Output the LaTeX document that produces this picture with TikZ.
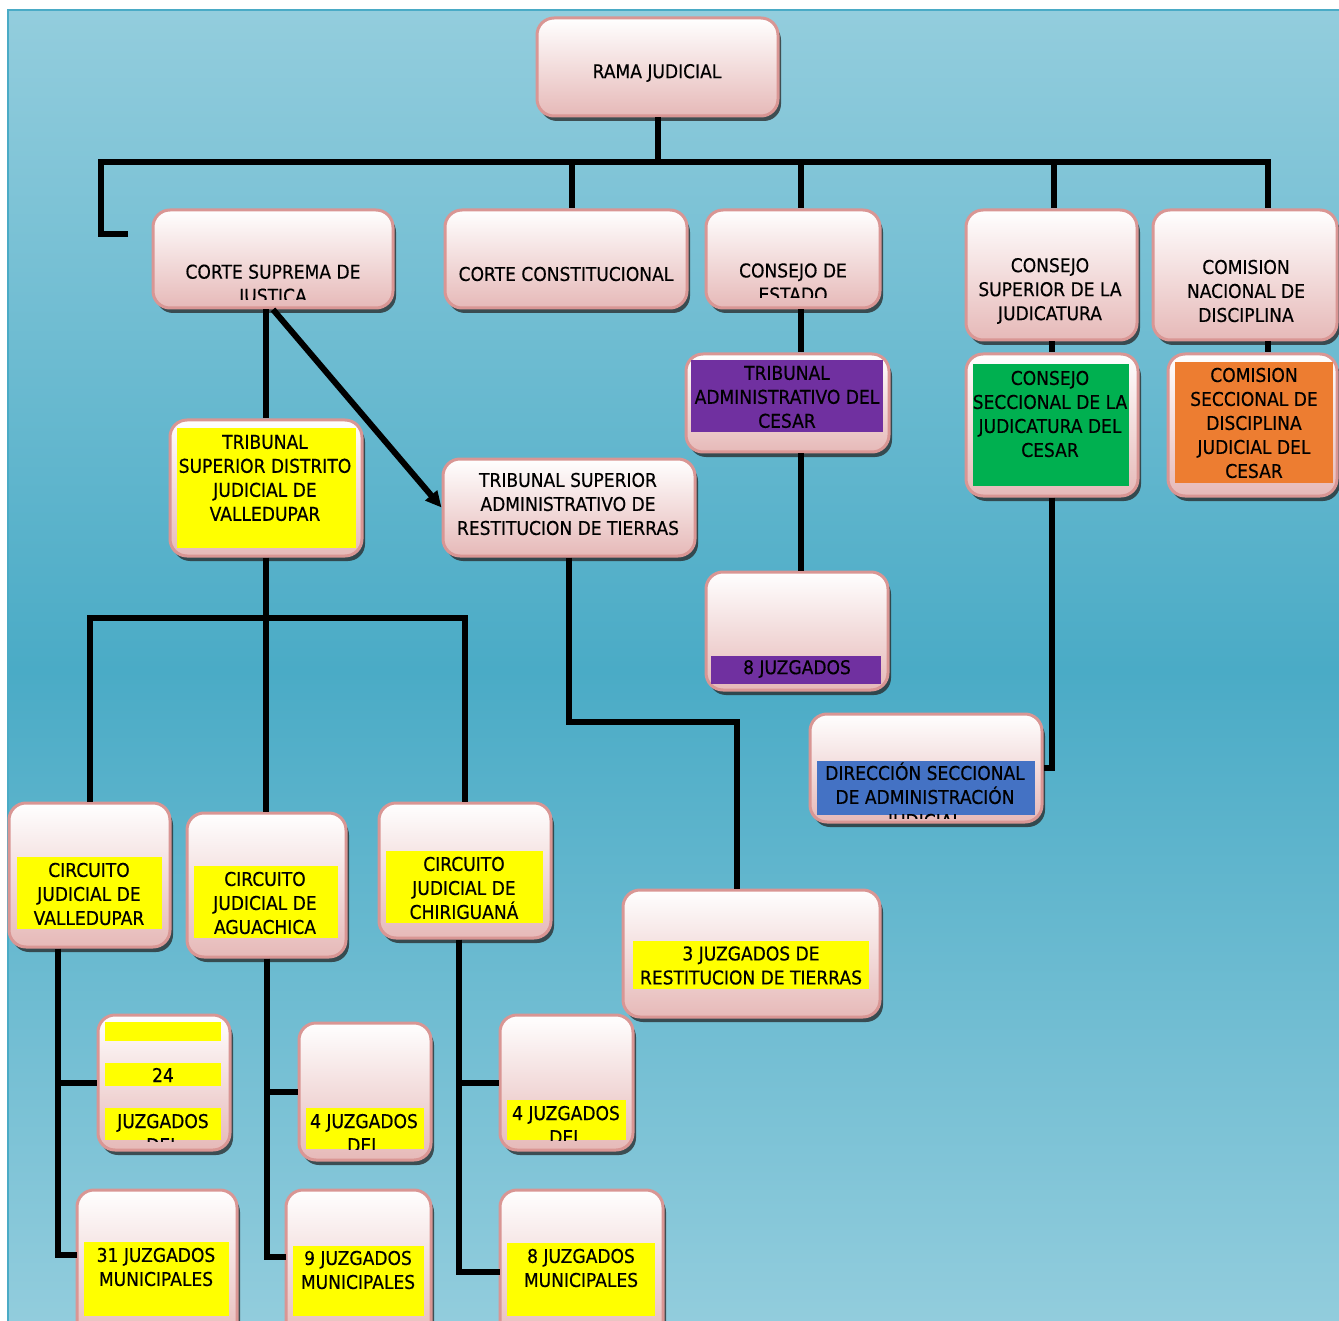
\documentclass[tikz,border=0pt]{standalone}
\usepackage{fontspec}
\setmainfont{DejaVu Sans}[FakeStretch=0.9,FakeBold=0.4]
\usetikzlibrary{shadows,arrows.meta}
\definecolor{bgtop}{HTML}{93CDDD}
\definecolor{bgmid}{HTML}{4AABC6}
\definecolor{bgbot}{HTML}{93CDDD}
\definecolor{bord}{HTML}{D99694}
\definecolor{pinkb}{HTML}{E6B9B8}
\definecolor{yel}{HTML}{FFFF00}
\definecolor{purp}{HTML}{7030A0}
\definecolor{grn}{HTML}{00B050}
\definecolor{org}{HTML}{ED7D31}
\definecolor{blu}{HTML}{4472C4}
\newcommand\jbox[5]{\node[jbx, minimum width={(#4-#2)*1pt}, minimum height={(#5-#3)*1pt}] (#1) at ({(#2+#4)/2},{(#3+#5)/2}) {};}
\begin{document}
\begin{tikzpicture}[x=1pt,y=-1pt,
  jbx/.style={rectangle, rounded corners=17pt, draw=bord, line width=3pt, top color=white, bottom color=pinkb, inner sep=0pt,
    drop shadow={shadow xshift=3pt, shadow yshift=-5pt, fill=black!70!gray, opacity=0.75}},
  txt/.style={font=\fontsize{19}{24}\selectfont, align=center, inner sep=0pt, text=black},
  conn/.style={line width=6pt, black, line join=miter}]
\useasboundingbox (0,0) rectangle (1339,1321);
\fill[white] (0,0) rectangle (1339,1321);
\shade[top color=bgtop, bottom color=bgbot, middle color=bgmid] (8,10) rectangle (1350,1330);
\draw[bgmid, line width=2pt] (8,1330) -- (8,10) -- (1350,10);

% boxes
\jbox{rama}{537}{18}{778}{116}
\jbox{csj}{153}{210}{393}{308}
\jbox{cc}{445}{210}{687}{308}
\jbox{ce}{706}{210}{880}{308}
\jbox{csjud}{966}{210}{1137}{340}
\jbox{cnd}{1153}{210}{1337}{340}
\jbox{tac}{686}{354}{889}{452}
\jbox{csecj}{966}{354}{1138}{496}
\jbox{csd}{1168}{354}{1337}{496}
\jbox{tsd}{170}{420}{362}{556}
\jbox{tsa}{443}{459}{695}{556}
\jbox{jee}{706}{572}{888}{690}
\jbox{dsa}{810}{714}{1042}{822}
\jbox{cv}{9}{803}{170}{947}
\jbox{ca}{187}{813}{346}{957}
\jbox{cch}{379}{803}{551}{938}
\jbox{jrt}{623}{890}{880}{1017}
\jbox{jtf}{98}{1015}{230}{1150}
\jbox{jfa}{299}{1023}{431}{1160}
\jbox{jfc}{500}{1015}{633}{1150}
\jbox{mto}{77}{1190}{237}{1345}
\jbox{mni}{286}{1190}{431}{1345}
\jbox{mei}{500}{1190}{663}{1345}

% coloured bands
\fill[purp] (691,360) rectangle (883,432);
\fill[grn] (973,364) rectangle (1129,486);
\fill[org] (1175,362) rectangle (1333,483);
\fill[yel] (177,428) rectangle (356,548);
\fill[purp] (711,656) rectangle (881,684);
\fill[blu] (817,761) rectangle (1035,815);
\fill[yel] (17,857) rectangle (162,929);
\fill[yel] (194,866) rectangle (338,938);
\fill[yel] (386,851) rectangle (543,923);
\fill[yel] (633,941) rectangle (869,989);
\fill[yel] (105,1022) rectangle (221,1041);
\fill[yel] (105,1063) rectangle (221,1086);
\fill[yel] (105,1108) rectangle (221,1140);
\fill[yel] (306,1108) rectangle (424,1149);
\fill[yel] (507,1100) rectangle (626,1140);
\fill[yel] (84,1242) rectangle (229,1316);
\fill[yel] (293,1246) rectangle (424,1316);
\fill[yel] (507,1243) rectangle (655,1316);

% texts
\node[txt] (t-rama) at (657,73) {RAMA JUDICIAL};
\begin{scope}
\clip (153,210) rectangle (393,300);
\node[txt] (t-csj) at (273,285.5) {CORTE SUPREMA DE\\JUSTICA};
\end{scope}
\node[txt] (t-cc) at (566,274) {CORTE CONSTITUCIONAL};
\begin{scope}
\clip (706,210) rectangle (880,298);
\node[txt] (t-ce) at (793,282.5) {CONSEJO DE\\ESTADO};
\end{scope}
\node[txt] (t-csjud) at (1050,291) {CONSEJO\\SUPERIOR DE LA\\JUDICATURA};
\node[txt] (t-cnd) at (1246,291) {COMISION\\NACIONAL DE\\DISCIPLINA};
\node[txt] (t-tac) at (787,397) {TRIBUNAL\\ADMINISTRATIVO DEL\\CESAR};
\node[txt] (t-csecj) at (1050,414) {CONSEJO\\SECCIONAL DE LA\\JUDICATURA DEL\\CESAR};
\node[txt] (t-csd) at (1254,423) {COMISION\\SECCIONAL DE\\DISCIPLINA\\JUDICIAL DEL\\CESAR};
\node[txt] (t-tsd) at (265,478) {TRIBUNAL\\SUPERIOR DISTRITO\\JUDICIAL DE\\VALLEDUPAR};
\node[txt] (t-tsa) at (568,504) {TRIBUNAL SUPERIOR\\ADMINISTRATIVO DE\\RESTITUCION DE TIERRAS};
\node[txt] (t-jee) at (797,669) {8 JUZGADOS};
\begin{scope}
\clip (810,714) rectangle (1042,818);
\node[txt] (t-dsa) at (925,797) {DIRECCIÓN SECCIONAL\\DE ADMINISTRACIÓN\\JUDICIAL};
\end{scope}
\node[txt] (t-cv) at (89,894) {CIRCUITO\\JUDICIAL DE\\VALLEDUPAR};
\node[txt] (t-ca) at (265,903) {CIRCUITO\\JUDICIAL DE\\AGUACHICA};
\node[txt] (t-cch) at (464,888) {CIRCUITO\\JUDICIAL DE\\CHIRIGUANÁ};
\node[txt] (t-jrt) at (751,965.5) {3 JUZGADOS DE\\RESTITUCION DE TIERRAS};
\node[txt] (t-jtf) at (163,1075) {24};
\begin{scope}
\clip (98,1015) rectangle (230,1141);
\node[txt] (t-jtfb) at (163,1133) {JUZGADOS\\DEL};
\end{scope}
\begin{scope}
\clip (299,1023) rectangle (431,1149);
\node[txt] (t-jfa) at (364,1133) {4 JUZGADOS\\DEL};
\end{scope}
\begin{scope}
\clip (500,1015) rectangle (633,1140);
\node[txt] (t-jfc) at (566,1125) {4 JUZGADOS\\DEL};
\end{scope}
\node[txt] (t-mto) at (156,1267) {31 JUZGADOS\\MUNICIPALES};
\node[txt] (t-mni) at (358,1270) {9 JUZGADOS\\MUNICIPALES};
\node[txt] (t-mei) at (581,1268) {8 JUZGADOS\\MUNICIPALES};

% connectors
\coordinate (hL) at (101,162);
\coordinate (hR) at (1268,162);
\coordinate (stub) at (128,234);
\coordinate (xcc) at (572,162);
\coordinate (xce) at (801,162);
\coordinate (xcs) at (1054,162);
\draw[conn] (rama.south) -- (rama.south |- hL);
\draw[conn] (stub) -- (hL |- stub) -- (hL) -- (hR) -- (hR |- cnd.north);
\draw[conn] (xcc) -- (xcc |- cc.north);
\draw[conn] (xce) -- (xce |- ce.north);
\draw[conn] (xcs) -- (xcs |- csjud.north);
\draw[conn] (xce |- ce.south) -- (xce |- tac.north);
\draw[conn] (xce |- tac.south) -- (xce |- jee.north);
\draw[conn] (csecj.north |- csjud.south) -- (csecj.north);
\draw[conn] (hR |- cnd.south) -- (hR |- csd.north);
\draw[conn] (csecj.south) -- (csecj.south |- dsa.east) -- (dsa.east);
\draw[conn] (tsd.north |- csj.south) -- (tsd.north);
\draw[conn, -{Triangle[length=16pt,width=15pt]}] (csj.south) -- (tsa.west);
\coordinate (tb) at (0,618);
\draw[conn] (tsd.south) -- (tsd.south |- ca.north);
\draw[conn] (cv.north) -- (cv.north |- tb) -- (cch.north |- tb) -- (cch.north);
\coordinate (tk) at (737,722);
\draw[conn] (tsa.south) -- (tsa.south |- tk) -- (tk) -- (tk |- jrt.north);
\coordinate (vx) at (58,0);
\coordinate (cto) at (77,1255);
\draw[conn] (cv.south -| vx) -- (vx |- cto) -- (cto);
\draw[conn] (vx |- jtf.west) -- (jtf.west);
\coordinate (cni) at (286,1257);
\draw[conn] (ca.south) -- (ca.south |- cni) -- (cni);
\draw[conn] (ca.south |- jfa.west) -- (jfa.west);
\coordinate (chx) at (459,0);
\coordinate (cei) at (500,1272);
\draw[conn] (cch.south -| chx) -- (chx |- cei) -- (cei);
\draw[conn] (chx |- jfc.west) -- (jfc.west);
\end{tikzpicture}
\end{document}
